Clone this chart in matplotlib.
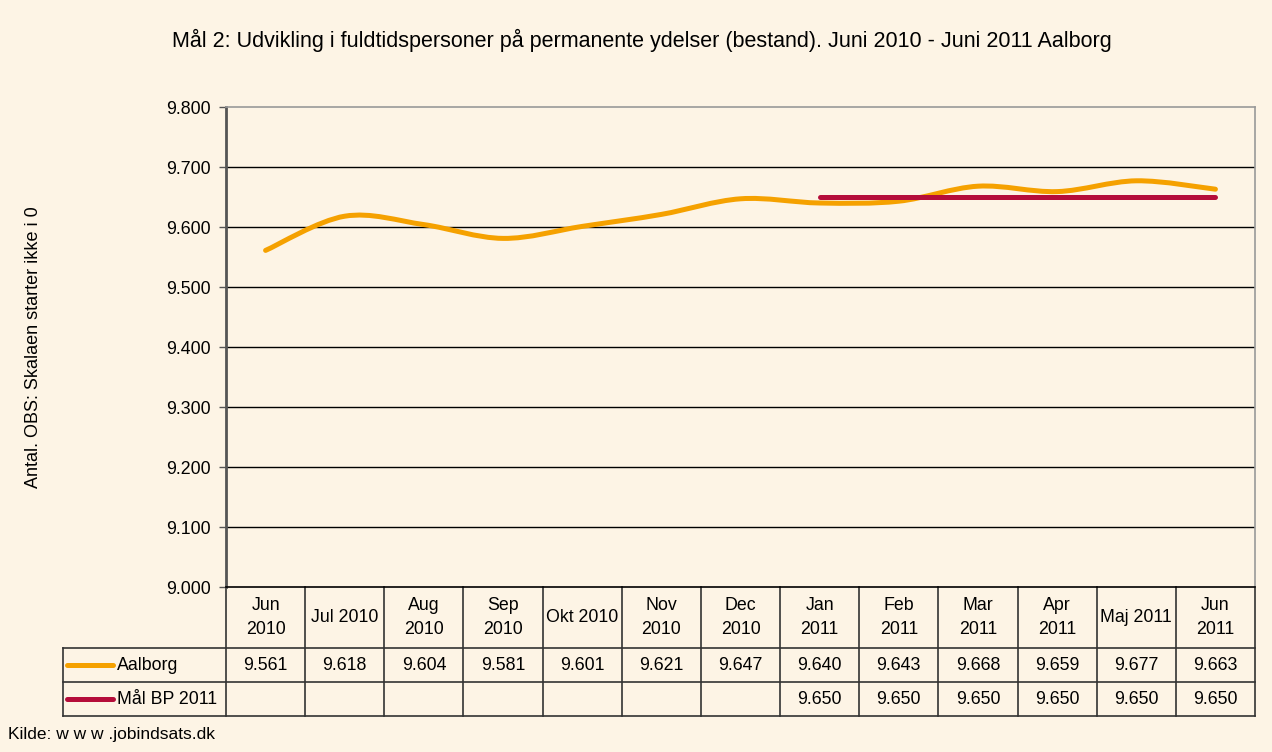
import matplotlib
matplotlib.use("Agg")
import matplotlib.pyplot as plt
from matplotlib.path import Path
from matplotlib.patches import PathPatch
from matplotlib.transforms import blended_transform_factory
import numpy as np

plt.rcParams['font.family'] = ['Liberation Sans', 'DejaVu Sans']

# data
months = ['Jun\n2010', 'Jul 2010', 'Aug\n2010', 'Sep\n2010', 'Okt 2010', 'Nov\n2010',
          'Dec\n2010', 'Jan\n2011', 'Feb\n2011', 'Mar\n2011', 'Apr\n2011', 'Maj 2011',
          'Jun\n2011']
aalborg = [9561, 9618, 9604, 9581, 9601, 9621, 9647, 9640, 9643, 9668, 9659, 9677, 9663]
maal = [None, None, None, None, None, None, None, 9650, 9650, 9650, 9650, 9650, 9650]
yticks = [9000, 9100, 9200, 9300, 9400, 9500, 9600, 9700, 9800]

bg = '#FDF4E5'
orange = '#F5A100'
crimson = '#B50D3A'
fs = 12.8

W, H = 1272, 752
fig = plt.figure(figsize=(W / 100, H / 100), dpi=100, facecolor=bg)
ax = fig.add_axes([226 / W, 1 - 587 / H, (1255 - 226) / W, (587 - 107) / H])
ax.set_facecolor(bg)

n = len(months)
xs = np.arange(n)
ax.set_xlim(-0.5, n - 0.5)
ax.set_ylim(9000, 9800)
ax.set_yticks(yticks)
ax.set_yticklabels(['%d.%03d' % (v // 1000, v % 1000) for v in yticks], fontsize=fs)
ax.set_xticks([])
ax.tick_params(axis='y', length=5, width=1, color='#555555', pad=6)
for v in yticks[1:-1]:
    ax.axhline(v, color='black', lw=1)
for s in ['top', 'right']:
    ax.spines[s].set_color('#999999')
    ax.spines[s].set_linewidth(1.2)
ax.spines['left'].set_color('#555555')
ax.spines['left'].set_linewidth(2)
ax.spines['bottom'].set_color('black')
ax.spines['bottom'].set_linewidth(1.2)


def smooth_path(x, y):
    # Catmull-Rom style bezier through the points, like a smoothed line
    pts = np.column_stack([x, y]).astype(float)
    verts = [pts[0]]
    codes = [Path.MOVETO]
    for i in range(len(pts) - 1):
        p0 = pts[i - 1] if i > 0 else pts[i]
        p1 = pts[i]
        p2 = pts[i + 1]
        p3 = pts[i + 2] if i + 2 < len(pts) else pts[i + 1]
        c1 = p1 + (p2 - p0) / 6.0
        c2 = p2 - (p3 - p1) / 6.0
        verts += [c1, c2, p2]
        codes += [Path.CURVE4] * 3
    return Path(verts, codes)


ax.add_patch(PathPatch(smooth_path(xs, aalborg), fill=False, ec=orange, lw=3.6,
                       capstyle='round', joinstyle='round', zorder=3))
mx = [i for i in xs if maal[i] is not None]
my = [maal[i] for i in mx]
ax.plot(mx, my, color=crimson, lw=3.6, solid_capstyle='round', zorder=4)

ax.set_ylabel('Antal. OBS: Skalaen starter ikke i 0', fontsize=13, labelpad=0)
ax.yaxis.set_label_coords(-184 / (1255 - 226), 0.5)

fig.text(642 / W, 1 - 40 / H,
         'Mål 2: Udvikling i fuldtidspersoner på permanente ydelser (bestand). Juni 2010 - Juni 2011 Aalborg',
         ha='center', va='center', fontsize=15.5)

# data table below the axes
tr = blended_transform_factory(ax.transData, ax.transAxes)
ah = 587 - 107
y_head = -(648 - 587) / ah
y_row1 = -(682 - 587) / ah
y_row2 = -(716 - 587) / ah
x_left = -0.5 - (226 - 63) / ((1255 - 226) / n)
lk = dict(color='#333333', lw=1.2, clip_on=False, transform=tr)
for i in range(n + 1):
    ax.plot([i - 0.5, i - 0.5], [0, y_row2], **lk)
for yy in [y_head, y_row1, y_row2]:
    ax.plot([x_left, n - 0.5], [yy, yy], **lk)
ax.plot([x_left, x_left], [y_head, y_row2], **lk)

for i in range(n):
    ax.text(i, y_head / 2, months[i], transform=tr, ha='center', va='center',
            fontsize=fs, linespacing=1.6)
    ax.text(i, (y_head + y_row1) / 2, '%d.%03d' % (aalborg[i] // 1000, aalborg[i] % 1000),
            transform=tr, ha='center', va='center', fontsize=fs)
    if maal[i] is not None:
        ax.text(i, (y_row1 + y_row2) / 2, '%d.%03d' % (maal[i] // 1000, maal[i] % 1000),
                transform=tr, ha='center', va='center', fontsize=fs)

key_w = (113 - 67) / ((1255 - 226) / n)
for yy, c, name in [((y_head + y_row1) / 2, orange, 'Aalborg'),
                    ((y_row1 + y_row2) / 2, crimson, 'Mål BP 2011')]:
    ax.plot([x_left + 0.05, x_left + 0.05 + key_w], [yy, yy], color=c, lw=3.6,
            solid_capstyle='round', clip_on=False, transform=tr)
    ax.text(x_left + 0.1 + key_w, yy, name, transform=tr, ha='left', va='center',
            fontsize=fs)

fig.text(8 / W, 1 - 735 / H, 'Kilde: w w w .jobindsats.dk', ha='left', va='center',
         fontsize=12.5)

fig.savefig('out.png', dpi=100, facecolor=bg)
